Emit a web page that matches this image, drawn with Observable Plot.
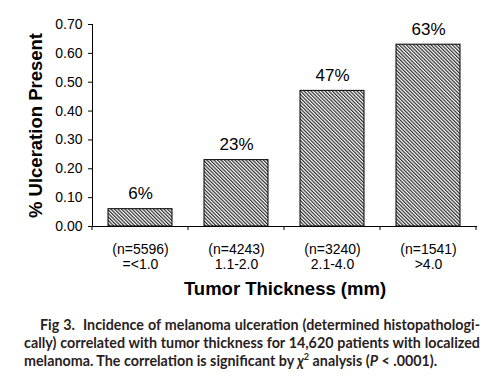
<!DOCTYPE html>
<html><head><meta charset="utf-8">
<script src="https://cdn.jsdelivr.net/npm/d3@7"></script>
<script src="https://cdn.jsdelivr.net/npm/@observablehq/plot@0.6"></script>
<style>
html,body{margin:0;padding:0;background:#fff}
body{width:502px;height:384px;overflow:hidden}
#chart svg{display:block}
.cap{font-family:Lato, "Noto Sans", sans-serif;font-weight:700;font-size:14.3px;color:#2a1e1e;margin-left:24px;width:456px;line-height:18px;margin-top:11px}
.cap div{white-space:nowrap}
.cap .j{text-align:justify;text-align-last:justify}
.cap .first{padding-left:16px}
.cap sup{font-size:9px;line-height:0;vertical-align:6px}
</style></head><body>
<div id="chart"></div>
<div class="cap" id="cap"></div>
<script>
const categories = ["=<1.0", "1.1-2.0", "2.1-4.0", ">4.0"];
const counts = [5596, 4243, 3240, 1541];
const ulceration = [0.06, 0.23, 0.47, 0.63];
const percentLabels = ["6%", "23%", "47%", "63%"];
const yTicks = [0, 0.1, 0.2, 0.3, 0.4, 0.5, 0.6, 0.7];
const yLabel = "% Ulceration Present";
const xLabel = "Tumor Thickness (mm)";
const captionLines = [
  "Fig 3.&nbsp; Incidence of melanoma ulceration (determined histopathologi-",
  "cally) correlated with tumor thickness for 14,620 patients with localized",
  "melanoma. The correlation is significant by <i>&chi;</i><sup>2</sup> analysis (<i>P</i> &lt; .0001)."
];

const data = categories.map((c, i) => ({category: c, n: counts[i], value: ulceration[i], label: percentLabels[i]}));

const plot = Plot.plot({
  width: 502, height: 305,
  marginLeft: 92, marginRight: 25, marginTop: 24, marginBottom: 79,
  style: {fontFamily: "'Liberation Sans', Arial, sans-serif", fontSize: "14px", color: "#000", background: "#fff"},
  x: {domain: categories, paddingInner: 0.33, paddingOuter: 0.165, label: null},
  y: {domain: [0, 0.7], label: null},
  marks: [
    Plot.barY(data, {x: "category", y: "value", fill: "url(#hatch)", stroke: "#000", strokeWidth: 1}),
    Plot.text(data, {x: "category", y: "value", text: "label", dy: -10, lineAnchor: "bottom", fontSize: 17}),
    Plot.axisY({ticks: yTicks, tickFormat: d3.format(".2f"), tickSize: 4, tickPadding: 6, fontSize: 14, label: null}),
    Plot.axisX({tickSize: 0, tickPadding: 17, lineHeight: 1.07, fontSize: 14,
      tickFormat: d => `(n=${counts[categories.indexOf(d)]})\n${d}`, label: null}),
    Plot.text([yLabel], {text: d => d, frameAnchor: "left", textAnchor: "middle", rotate: -90, dx: -56, fontWeight: "bold", fontSize: 18.5}),
    Plot.text([xLabel], {text: d => d, frameAnchor: "bottom", dy: 68, fontWeight: "bold", fontSize: 18.5}),
    Plot.frame({anchor: "left"}),
    Plot.ruleY([0])
  ]
});

const svg = d3.select(plot);
const defs = svg.insert("defs", ":first-child");
const pat = defs.append("pattern").attr("id", "hatch").attr("patternUnits", "userSpaceOnUse")
  .attr("width", 2.5).attr("height", 2.5).attr("patternTransform", "rotate(-45)");
pat.append("rect").attr("width", 2.5).attr("height", 2.5).attr("fill", "#fff");
pat.append("line").attr("x1", 0.6).attr("y1", -1).attr("x2", 0.6).attr("y2", 4).attr("stroke", "#2a2a2a").attr("stroke-width", 1.2);

// boundary ticks on the x axis, positioned from the plot's own band scale
const xs = plot.scale("x");
const ys = plot.scale("y");
const gap = (xs.step - xs.bandwidth) / 2;
const bounds = categories.map(c => xs.apply(c) - gap).concat([xs.apply(categories[categories.length - 1]) + xs.bandwidth + gap]);
const y0 = ys.apply(0);
svg.append("g").attr("stroke", "#000").selectAll("line").data(bounds).join("line")
  .attr("x1", d => d).attr("x2", d => d).attr("y1", y0).attr("y2", y0 + 4);

document.getElementById("chart").appendChild(plot);
document.getElementById("cap").innerHTML = captionLines.map((l, i) =>
  `<div class="${i < 2 ? "j" : ""}${i === 0 ? " first" : ""}">${l}</div>`).join("");
</script>
</body></html>
